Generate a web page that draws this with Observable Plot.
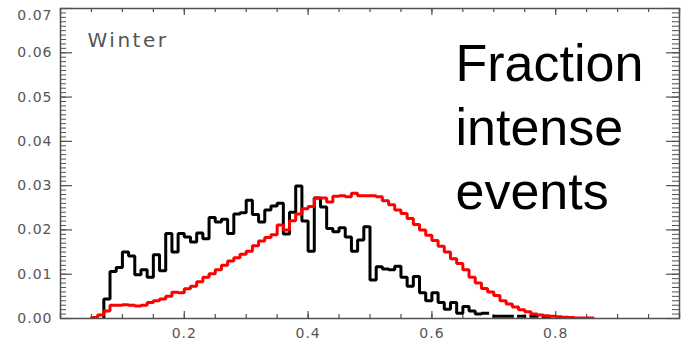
<!DOCTYPE html>
<html><head><meta charset="utf-8">
<script src="https://cdn.jsdelivr.net/npm/d3@7"></script>
<script src="https://cdn.jsdelivr.net/npm/@observablehq/plot@0.6"></script>
<style>body{margin:0;background:#fff}svg{display:block}</style>
</head><body><div id="chart"></div>
<script>
// Histogram bins of width 0.01; value per bin (null = empty bin)
const binWidth = 0.01;
const blackStart = 0.07;
const blackValues = [
  0.0044, 0.0106, 0.0115, 0.0150, 0.0141, 0.0099, 0.0110, 0.0093, 0.0144, 0.0108,
  0.0192, 0.0150, 0.0192, 0.0184, 0.0173, 0.0193, 0.0180, 0.0228, 0.0218, 0.0224,
  0.0192, 0.0236, 0.0239, 0.0267, 0.0235, 0.0218, 0.0245, 0.0254, 0.0260, 0.0191,
  0.0240, 0.0299, 0.0220, 0.0152, 0.0272, 0.0252, 0.0203, 0.0196, 0.0205, 0.0184,
  0.0152, 0.0177, 0.0207, 0.0087, 0.0117, 0.0112, 0.0110, 0.0118, 0.0093, 0.0073,
  0.0095, 0.0058, 0.0040, 0.0058, 0.0036, 0.0021, 0.0036, 0.0012, 0.0027, 0.0017,
  0.0010, 0.0012, null, 0.0005, 0.0005, 0.0005, null, 0.0005, null, 0.0005,
  null, 0.0004
];
const redStart = 0.05;
const redValues = [
  0.0002, 0.0008, 0.0017, 0.0030, 0.0030, 0.0031, 0.0030, 0.0028, 0.0030, 0.0036,
  0.0040, 0.0044, 0.0050, 0.0059, 0.0058, 0.0067, 0.0073, 0.0083, 0.0093, 0.0101,
  0.0110, 0.0120, 0.0130, 0.0137, 0.0145, 0.0152, 0.0164, 0.0175, 0.0183, 0.0189,
  0.0211, 0.0200, 0.0221, 0.0236, 0.0248, 0.0253, 0.0272, 0.0272, 0.0263, 0.0276,
  0.0277, 0.0275, 0.0283, 0.0277, 0.0277, 0.0277, 0.0275, 0.0266, 0.0257, 0.0245,
  0.0237, 0.0226, 0.0212, 0.0200, 0.0188, 0.0176, 0.0163, 0.0150, 0.0135, 0.0124,
  0.0110, 0.0093, 0.0080, 0.0068, 0.0060, 0.0052, 0.0040, 0.0033, 0.0026, 0.0020,
  0.0015, 0.0010, 0.0008, 0.0006, 0.0005, 0.0004, 0.0003, 0.0002, 0.0001, 0.0001,
  0.0001
];
const xTickLabels = [0.2, 0.4, 0.6, 0.8];
const yTickLabels = [0.00, 0.01, 0.02, 0.03, 0.04, 0.05, 0.06, 0.07];
const panelLabel = "Winter";
const titleLines = ["Fraction", "intense", "events"];

const W = 692, H = 344;
const mL = 60, mR = 13, mT = 8, mB = 26;
const PW = W - mL - mR, PH = H - mT - mB;
const axisColor = "#505050";

function outline(start, values) {
  const pts = [{x: start, y: 0}];
  values.forEach((v, i) => {
    const x0 = +(start + i * binWidth).toFixed(4);
    const x1 = +(x0 + binWidth).toFixed(4);
    if (v == null) pts.push({x: x0, y: NaN});
    else pts.push({x: x0, y: v}, {x: x1, y: v});
  });
  return pts;
}

const xMinor = d3.range(0, 1.0001, 0.05).map(d => +d.toFixed(2));
const xMajor = d3.range(0, 1.0001, 0.2).map(d => +d.toFixed(2));
const yMinor = d3.range(0, 0.07005, 0.001).map(d => +d.toFixed(3));
const yMajor = yTickLabels;

const plot = Plot.plot({
  width: W, height: H,
  marginLeft: mL, marginRight: mR, marginTop: mT, marginBottom: mB,
  style: {fontFamily: "DejaVu Sans", background: "#fff"},
  x: {domain: [0, 1]},
  y: {domain: [0, 0.07]},
  marks: [
    Plot.tickX(xMinor, {x: d => d, insetTop: PH - 4, stroke: axisColor, strokeWidth: 1.2}),
    Plot.tickX(xMinor, {x: d => d, insetBottom: PH - 4, stroke: axisColor, strokeWidth: 1.2}),
    Plot.tickX(xMajor, {x: d => d, insetTop: PH - 7, stroke: axisColor, strokeWidth: 1.2}),
    Plot.tickX(xMajor, {x: d => d, insetBottom: PH - 7, stroke: axisColor, strokeWidth: 1.2}),
    Plot.tickY(yMinor, {y: d => d, insetRight: PW - 6, stroke: axisColor, strokeWidth: 1}),
    Plot.tickY(yMinor, {y: d => d, insetLeft: PW - 7, stroke: axisColor, strokeWidth: 1}),
    Plot.tickY(yMajor, {y: d => d, insetRight: PW - 12, stroke: axisColor, strokeWidth: 1.2}),
    Plot.tickY(yMajor, {y: d => d, insetLeft: PW - 13, stroke: axisColor, strokeWidth: 1.2}),
    Plot.axisX(xTickLabels, {tickSize: 0, tickPadding: 10, tickFormat: d3.format(".1f"), fontSize: 14, fill: "#555", label: null}),
    Plot.axisY(yTickLabels, {tickSize: 0, tickPadding: 8, tickFormat: d3.format(".2f"), fontSize: 14, fill: "#555", label: null}),
    Plot.line(outline(blackStart, blackValues), {x: "x", y: "y", stroke: "black", strokeWidth: 3, strokeLinejoin: "miter", strokeLinecap: "square", clip: true}),
    Plot.line(outline(redStart, redValues), {x: "x", y: "y", stroke: "#ff0000", strokeWidth: 3, strokeLinejoin: "miter", strokeLinecap: "square", clip: true}),
    Plot.frame({stroke: axisColor, strokeWidth: 1.5}),
    Plot.text([panelLabel], {text: d => d, frameAnchor: "top-left", dx: 27, dy: 24, textAnchor: "start", fontSize: 20, fill: "#555"}),
    Plot.text([titleLines.join("\n")], {text: d => d, frameAnchor: "top-left", dx: 395, dy: 27, lineAnchor: "top", lineHeight: 1.23, textAnchor: "start", fontSize: 52, fontFamily: "Liberation Sans, Arial, sans-serif", fill: "black"})
  ]
});

const svg = d3.select(plot);
svg.selectAll('g[aria-label$="tick label"]').attr("letter-spacing", "1px");
svg.selectAll("text").filter(function() { return this.textContent === panelLabel; }).attr("letter-spacing", "2.5px");
svg.selectAll('g[aria-label="y-axis tick label"] text')
  .filter(function() { return this.textContent === "0.07"; })
  .each(function() {
    const t = this.getAttribute("transform") || "";
    this.setAttribute("transform", t + " translate(0,7)");
  });
document.getElementById("chart").appendChild(plot);
</script>
</body></html>
